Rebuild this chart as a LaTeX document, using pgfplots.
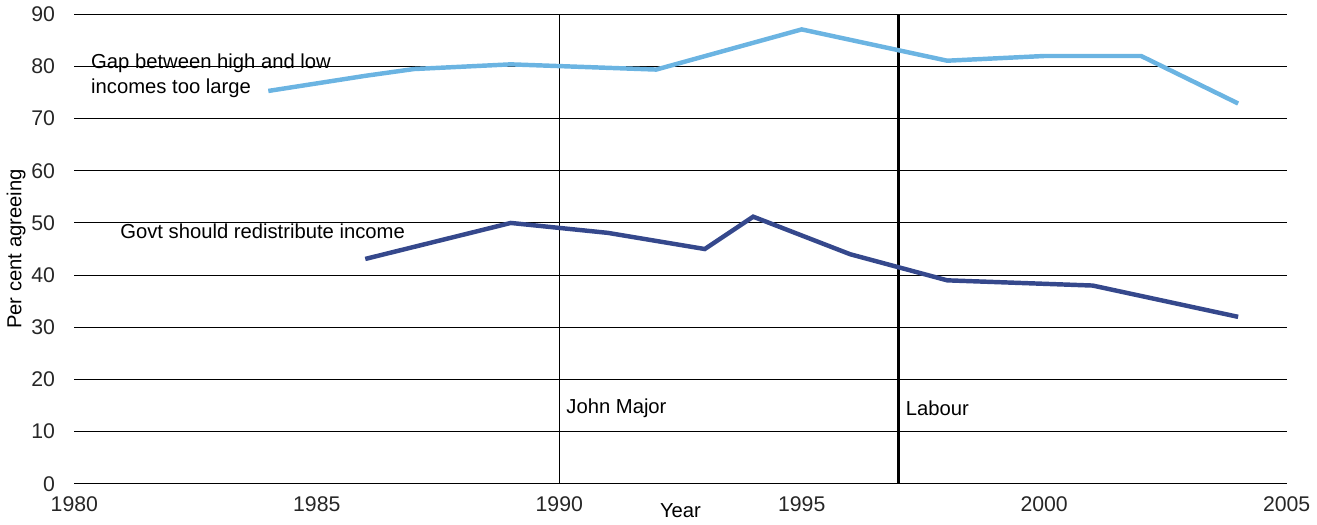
\documentclass[border=0pt]{standalone}
\usepackage{pgfplots}
\pgfplotsset{compat=1.18}
\usepackage{fontspec}
\setmainfont{Liberation Sans}
\definecolor{lb}{RGB}{107,180,226}
\definecolor{db}{RGB}{53,72,140}
\begin{document}
\begin{tikzpicture}
\begin{axis}[scale only axis, width=599pt, height=232pt,
 xmin=1980, xmax=2005, ymin=0, ymax=90,
 xtick={1980,1985,...,2005}, ytick={0,10,...,90},
 /pgf/number format/assume math mode=true,
 x tick label style={/pgf/number format/1000 sep={}},
 ymajorgrids, major grid style={black, line width=0.5pt},
 axis line style={draw=none},
 xticklabel style={font=\fontsize{10.5}{11}\selectfont, color=black!85, yshift=-3pt},
 yticklabel style={font=\fontsize{10.5}{11}\selectfont, color=black!85, xshift=-6pt},
 tick style={draw=none},
 ylabel={Per cent agreeing}, xlabel={Year},
 label style={font=\fontsize{10}{11}\selectfont},
 ylabel style={yshift=-4pt}, xlabel style={yshift=11pt},
 clip=false]
\draw[black, line width=0.5pt] (axis cs:1980,0) -- (axis cs:2005,0);
\draw[black, line width=0.5pt] (axis cs:1990,0) -- (axis cs:1990,90);
\draw[black, line width=1.3pt] (axis cs:1997,0) -- (axis cs:1997,90);
\addplot[lb, line width=2.2pt] coordinates {(1984,75.3)(1986,78.2)(1987,79.5)(1989,80.4)(1992,79.4)(1995,87.1)(1998,81.1)(2000,82.0)(2002,82.0)(2004,72.9)};
\addplot[db, line width=2.2pt] coordinates {(1986,43.1)(1989,50.0)(1991,48.1)(1993,45.0)(1994,51.2)(1996,44.0)(1998,39.0)(2001,38.0)(2004,32.0)};
\node[anchor=west, align=left, font=\fontsize{10}{12}\selectfont] at (axis cs:1980.2,78.2) {Gap between high and low\\incomes too large};
\node[anchor=west, font=\fontsize{10}{12}\selectfont] at (axis cs:1980.8,48.5) {Govt should redistribute income};
\node[anchor=west, font=\fontsize{10}{12}\selectfont] at (axis cs:1990,14.5) {John Major};
\node[anchor=west, font=\fontsize{10}{12}\selectfont] at (axis cs:1997,14.5) {Labour};
\end{axis}
\end{tikzpicture}
\end{document}
